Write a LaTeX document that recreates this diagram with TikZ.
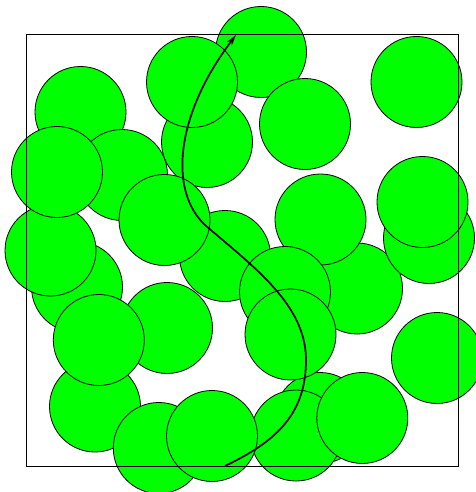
\documentclass[tikz,border=0pt]{standalone}
\usetikzlibrary{arrows.meta}
\begin{document}
\begin{tikzpicture}[x=1pt,y=-1pt,
  ball/.style={circle,draw=black,line width=0.8pt,fill={rgb,255:red,0;green,255;blue,0},minimum size=91pt,inner sep=0pt},
  frame/.style={draw=black,line width=0.9pt},
  pathline/.style={draw=black,line width=1.7pt,-{Stealth[length=11pt,width=6pt]}}]
\useasboundingbox (0,0) rectangle (475,492);
\node[ball] (c1) at (261,52) {};
\node[ball] (c2) at (207,142) {};
\node[ball] (c3) at (192,82) {};
\node[ball] (c4) at (416.5,82) {};
\node[ball] (c5) at (305,124) {};
\node[ball] (c6) at (80.5,112) {};
\node[ball] (c7) at (122,175) {};
\node[ball] (c8) at (77,287) {};
\node[ball] (c9) at (50.5,250.5) {};
\node[ball] (c10) at (57,172) {};
\node[ball] (c11) at (225,256) {};
\node[ball] (c12) at (164.5,220) {};
\node[ball] (c13) at (357,288.5) {};
\node[ball] (c14) at (320.5,219.5) {};
\node[ball] (c15) at (285,292) {};
\node[ball] (c16) at (320,418) {};
\node[ball] (c17) at (290.5,334.5) {};
\node[ball] (c18) at (429,238) {};
\node[ball] (c19) at (422.5,202) {};
\node[ball] (c20) at (167,328) {};
\node[ball] (c21) at (95,406.5) {};
\node[ball] (c22) at (98.8,340) {};
\node[ball] (c23) at (296,435.5) {};
\node[ball] (c24) at (158.8,448) {};
\node[ball] (c25) at (212,436) {};
\node[ball] (c26) at (362.3,418) {};
\node[ball] (c27) at (437,358) {};
\coordinate (tl) at (26.7,34.3);
\coordinate (br) at (458.5,466);
\draw[frame] (tl) rectangle (br);
\coordinate (start) at (225,466);
\coordinate (m1) at (306,360);
\coordinate (m2) at (205,225);
\coordinate (tip) at (236,35);
\draw[pathline] (start) .. controls (275,442) and (306,415) .. (m1)
  .. controls (306,305) and (255,268) .. (m2)
  .. controls (168,190) and (176,114) .. (tip);
\end{tikzpicture}
\end{document}
